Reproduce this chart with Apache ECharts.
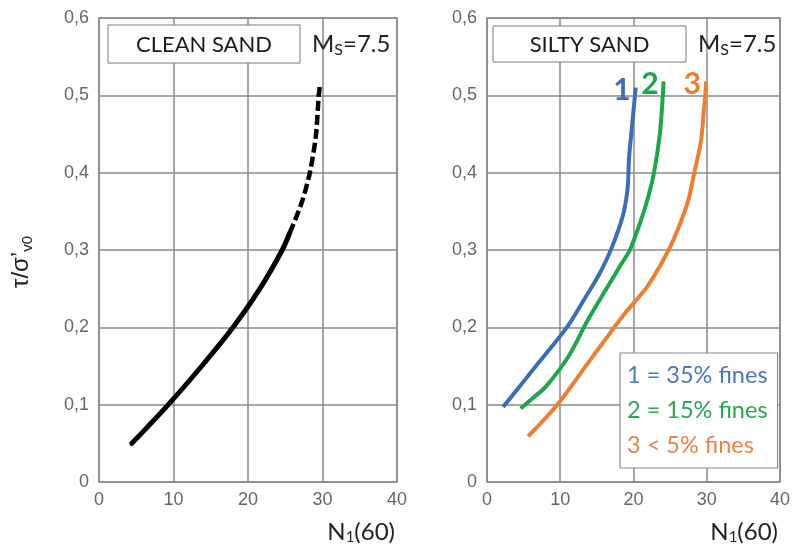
<!DOCTYPE html>
<html>
<head>
<meta charset="utf-8">
<script src="https://cdn.jsdelivr.net/npm/echarts@6/dist/echarts.min.js"></script>
<style>html,body{margin:0;padding:0;background:#fff}#c{width:793px;height:547px}</style>
</head>
<body>
<div id="c"></div>
<script>
// ---- data ----
const xTickLabels = ['0', '10', '20', '30', '40'];
const yTickLabels = ['0', '0,1', '0,2', '0,3', '0,4', '0,5', '0,6'];

// Clean sand: solid part and dashed (extrapolated) part
const cleanSolidN = [4.4, 6.4, 9.3, 13.8, 18.0, 21.6, 24.6, 25.6];
const cleanSolidT = [0.05, 0.07, 0.1, 0.15, 0.2, 0.25, 0.3, 0.322];
const cleanDashN = [25.6, 27.2, 28.3, 29.1, 29.5, 29.7];
const cleanDashT = [0.322, 0.361, 0.4, 0.447, 0.5, 0.516];

// Silty sand curves
const fines35N = [2.2, 6.6, 10.9, 13.2, 15.4, 16.9, 17.9, 18.7, 19.2, 19.4, 19.8, 20.2, 20.3];
const fines35T = [0.097, 0.149, 0.2, 0.235, 0.27, 0.3, 0.325, 0.35, 0.38, 0.42, 0.46, 0.5, 0.51];
const fines15N = [4.6, 6.2, 8.0, 11.1, 13.8, 16.5, 18.2, 19.5, 20.9, 21.9, 22.8, 23.6, 24.0, 24.1];
const fines15T = [0.095, 0.108, 0.123, 0.162, 0.21, 0.253, 0.28, 0.3, 0.335, 0.365, 0.4, 0.45, 0.5, 0.518];
const fines5N = [5.6, 9.6, 13.8, 16.6, 19.0, 21.9, 24.8, 26.4, 27.5, 28.3, 29.2, 29.6, 29.8, 29.9];
const fines5T = [0.059, 0.1, 0.154, 0.19, 0.22, 0.253, 0.3, 0.335, 0.365, 0.4, 0.44, 0.48, 0.5, 0.518];

const seriesNames = ['1 = 35% fines', '2 = 15% fines', '3 < 5% fines'];
const curveTags = ['1', '2', '3'];

// ---- styles ----
const BLUE = '#3a6fb7', GREEN = '#1aa84a', ORANGE = '#ef7f30';
const LBLUE = '#4a78c0', LGREEN = '#27a84c', LORANGE = '#ee8245';
const GRIDC = '#8a8a8a';
const TXT = 'Lato';

function zip(xs, ys) { return xs.map((x, i) => [x, ys[i]]); }
function tagged(xs, ys, tag, color) {
  const d = zip(xs, ys).map(p => ({ value: p }));
  d[d.length - 1].label = {
    show: true, formatter: tag, position: 'left', distance: 3, offset: [-2, 3],
    color: color, fontSize: 30, fontWeight: 'bold', fontFamily: TXT
  };
  return d;
}

function xAxis(gi) {
  return {
    type: 'value', gridIndex: gi, min: 0, max: 40, interval: 10,
    axisLine: { show: false }, axisTick: { show: false },
    axisLabel: { margin: 9, color: '#666', fontSize: 18, fontFamily: 'Liberation Sans',
      formatter: v => xTickLabels[Math.round(v / 10)] },
    splitLine: { show: true, lineStyle: { color: GRIDC, width: 1.5 } },
    name: '{n|N}{s|1}{n|(60)}', nameLocation: 'end', nameGap: -2,
    nameTextStyle: { align: 'right', verticalAlign: 'top', padding: [38, 0, 0, 0],
      rich: { n: { fontSize: 24, fontFamily: TXT, color: '#222' },
              s: { fontSize: 15, fontFamily: TXT, color: '#222', verticalAlign: 'bottom', padding: [10, 0, 0, 0] } } }
  };
}
function yAxis(gi) {
  return {
    type: 'value', gridIndex: gi, min: 0, max: 0.6, interval: 0.1,
    axisLine: { show: false }, axisTick: { show: false },
    axisLabel: { margin: 10, color: '#666', fontSize: 18, fontFamily: 'Liberation Sans',
      formatter: v => yTickLabels[Math.round(v * 10)] },
    splitLine: { show: true, lineStyle: { color: GRIDC, width: 1.5 } }
  };
}
function ms(x) {
  return {
    type: 'text', x: x, y: 44, z: 100,
    style: { text: '{m|M}{s|S}{m|=7.5}', align: 'left', verticalAlign: 'middle',
      rich: { m: { fontSize: 24, fontFamily: TXT, fill: '#222', lineHeight: 28 },
              s: { fontSize: 16, fontFamily: TXT, fill: '#222', verticalAlign: 'bottom', lineHeight: 12 } } }
  };
}
function box(x, y, w, h, label) {
  return [
    { type: 'rect', z: 99, shape: { x: x, y: y, width: w, height: h },
      style: { fill: '#fff', stroke: '#7a7a7a', lineWidth: 1 } },
    { type: 'text', z: 100, x: x + w / 2, y: y + h / 2 + 1,
      style: { text: label, align: 'center', verticalAlign: 'middle', fontSize: 22, fontFamily: TXT, fill: '#1a1a1a' } }
  ];
}

const lineCommon = { smooth: 0.3 };

const chart = echarts.init(document.getElementById('c'), null, { renderer: 'canvas' });
chart.setOption({
  animation: false,
  backgroundColor: '#fff',
  grid: [
    { left: 99, top: 18, width: 298, height: 464, show: true, borderColor: GRIDC, borderWidth: 1.5 },
    { left: 487, top: 18, width: 299, height: 464, show: true, borderColor: GRIDC, borderWidth: 1.5 }
  ],
  xAxis: [xAxis(0), xAxis(1)],
  yAxis: [yAxis(0), yAxis(1)],
  legend: {
    orient: 'vertical', left: 620, top: 353, icon: 'none', itemWidth: 0, itemHeight: 10, itemGap: 0,
    padding: [5, 10, 5, 2], backgroundColor: '#fff', borderColor: '#8c8c8c', borderWidth: 1.2,
    selectedMode: false, z: 50,
    textStyle: { fontFamily: TXT, fontSize: 23.5, lineHeight: 35 },
    data: [
      { name: seriesNames[0], textStyle: { color: LBLUE } },
      { name: seriesNames[1], textStyle: { color: LGREEN } },
      { name: seriesNames[2], textStyle: { color: LORANGE } }
    ]
  },
  series: [
    Object.assign({ type: 'line', name: 'Clean sand', xAxisIndex: 0, yAxisIndex: 0, data: zip(cleanSolidN, cleanSolidT),
      symbol: 'none', lineStyle: { color: '#000', width: 5, cap: 'round' }, z: 5 }, lineCommon),
    Object.assign({ type: 'line', name: 'Clean sand (extrapolated)', xAxisIndex: 0, yAxisIndex: 0, data: zip(cleanDashN, cleanDashT),
      symbol: 'none', lineStyle: { color: '#000', width: 4.5, type: [10, 4] }, z: 5 }, lineCommon),
    Object.assign({ type: 'line', name: seriesNames[0], xAxisIndex: 1, yAxisIndex: 1, data: tagged(fines35N, fines35T, curveTags[0], BLUE),
      symbol: 'circle', symbolSize: 0, showSymbol: true, color: BLUE,
      lineStyle: { color: BLUE, width: 4 }, z: 5 }, lineCommon),
    Object.assign({ type: 'line', name: seriesNames[1], xAxisIndex: 1, yAxisIndex: 1, data: tagged(fines15N, fines15T, curveTags[1], GREEN),
      symbol: 'circle', symbolSize: 0, showSymbol: true, color: GREEN,
      lineStyle: { color: GREEN, width: 4 }, z: 5 }, lineCommon),
    Object.assign({ type: 'line', name: seriesNames[2], xAxisIndex: 1, yAxisIndex: 1, data: tagged(fines5N, fines5T, curveTags[2], ORANGE),
      symbol: 'circle', symbolSize: 0, showSymbol: true, color: ORANGE,
      lineStyle: { color: ORANGE, width: 4 }, z: 5 }, lineCommon)
  ],
  graphic: [
    ...box(108, 25, 192, 38, 'CLEAN SAND'),
    ...box(493, 26, 193, 36, 'SILTY SAND'),
    ms(312), ms(698),
    { type: 'text', x: 21, y: 262, rotation: Math.PI / 2, z: 100,
      style: { text: '{a|τ/σ’}{b|v0}', align: 'center', verticalAlign: 'middle',
        rich: { a: { fontSize: 24, fontFamily: 'Liberation Sans', fill: '#222', lineHeight: 28 },
                b: { fontSize: 15, fontFamily: 'Liberation Sans', fill: '#222', verticalAlign: 'bottom', lineHeight: 14 } } } }
  ]
});
</script>
</body>
</html>
